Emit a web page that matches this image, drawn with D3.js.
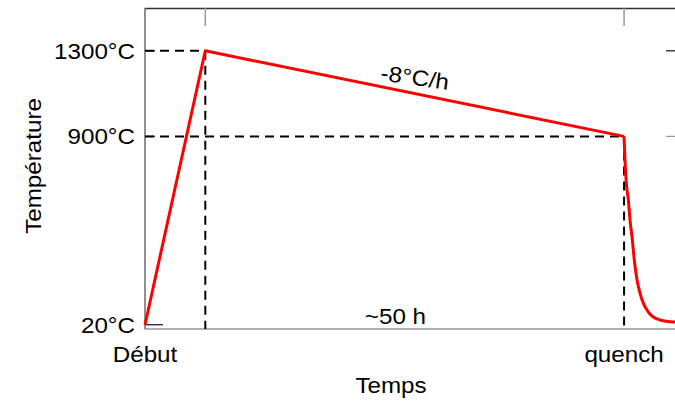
<!DOCTYPE html>
<html><head><meta charset="utf-8">
<script src="https://cdn.jsdelivr.net/npm/d3@7"></script>
<style>
html,body{margin:0;padding:0;background:#fff;}
svg text{font-family:"Liberation Sans",Arial,sans-serif;font-size:22px;fill:#000;}
</style></head>
<body><svg id="c" width="675" height="403"></svg>
<script>
// ---- data ----
const heatTimes = [0, 7.2, 57.2];            // hours
const heatTemps = [20, 1300, 900];           // °C
const quenchTimes = [57.19, 57.31, 57.49, 57.71, 57.91, 58.19, 58.42, 58.75, 59.10, 59.50, 60.10, 60.69, 61.49, 62.69, 63.4];
const quenchTemps = [900, 790, 673, 603, 509, 416, 322, 229, 168, 121, 79, 56, 42, 34, 33];
const yTickValues = [20, 900, 1300];
const yTickLabels = ["20°C", "900°C", "1300°C"];
const xTickValues = [0, 57.2];
const xTickLabels = ["Début", "quench"];
const topTickValues = [7.2, 57.2];
const xTitle = "Temps";
const yTitle = "Température";
const rateLabel = "-8°C/h";
const durationLabel = "~50 h";

// ---- layout ----
const L = 145, R = 676, T = 8, B = 329;
const x = d3.scaleLinear().domain([0, 63.4]).range([L, R]);
const y = d3.scaleLinear().domain([0, 1500]).range([B, T]);
const svg = d3.select("#c");
const SX = 1.1;

function label(txt, px, py, anchor, rot) {
  const g = svg.append("g").attr("transform", `translate(${px},${py}) rotate(${rot||0}) scale(${SX},1)`);
  g.append("text").attr("text-anchor", anchor || "middle").text(txt);
  return g;
}

// frame
svg.append("line").attr("x1", L).attr("x2", R).attr("y1", T + 0.5).attr("y2", T + 0.5).attr("stroke", "#333").attr("stroke-width", 1.3);
svg.append("line").attr("x1", L).attr("x2", R).attr("y1", B).attr("y2", B).attr("stroke", "#999").attr("stroke-width", 1.5);
svg.append("line").attr("x1", L).attr("x2", L).attr("y1", T).attr("y2", B).attr("stroke", "#555").attr("stroke-width", 1.3);

// top ticks (inward)
svg.selectAll(".tt").data(topTickValues).enter().append("line")
  .attr("x1", d => x(d)).attr("x2", d => x(d)).attr("y1", T).attr("y2", T + 18)
  .attr("stroke", "#999").attr("stroke-width", 1.5);
// left ticks (inward)
svg.selectAll(".lt").data(yTickValues).enter().append("line")
  .attr("x1", L).attr("x2", (d, i) => i === 0 ? L + 18 : L + 10)
  .attr("y1", d => y(d)).attr("y2", d => y(d))
  .attr("stroke", "#222").attr("stroke-width", 1.3);
// right ticks (inward)
svg.selectAll(".rt").data(yTickValues.slice(1)).enter().append("line")
  .attr("x1", R - 10).attr("x2", R)
  .attr("y1", d => y(d)).attr("y2", d => y(d))
  .attr("stroke", (d, i) => i === 0 ? "#999" : "#222").attr("stroke-width", 1.3);

// dashed guides
const peak = [heatTimes[1], heatTemps[1]];
const qs = [heatTimes[2], heatTemps[2]];
const dash = "9,6";
function dline(x1, y1, x2, y2) {
  svg.append("line").attr("x1", x1).attr("y1", y1).attr("x2", x2).attr("y2", y2)
    .attr("stroke", "#000").attr("stroke-width", 2).attr("stroke-dasharray", dash);
}
dline(L, y(peak[1]), x(peak[0]), y(peak[1]));
dline(L, y(qs[1]), x(qs[0]), y(qs[1]));
dline(x(peak[0]), y(peak[1]), x(peak[0]), B);
dline(x(qs[0]), y(qs[1]), x(qs[0]), B);

// red curve
const line = d3.line().x(d => x(d[0])).y(d => y(d[1]));
svg.append("path").datum(d3.zip(heatTimes, heatTemps))
  .attr("d", line).attr("fill", "none").attr("stroke", "#ff0000").attr("stroke-width", 3).attr("stroke-linejoin", "round");
svg.append("path").datum(d3.zip(quenchTimes, quenchTemps))
  .attr("d", line.curve(d3.curveMonotoneX)).attr("fill", "none").attr("stroke", "#ff0000").attr("stroke-width", 3);

// tick labels
yTickValues.forEach((v, i) => label(yTickLabels[i], 135, y(v) + 8, "end"));
xTickValues.forEach((v, i) => label(xTickLabels[i], x(v), 362, "middle"));

// titles
label(xTitle, 391, 393, "middle");
label(yTitle, 41, 166, "middle", -90);

// annotations
label(rateLabel, x(32.1), y(1173) + 7, "middle", 8);
label(durationLabel, x(29.9), 324, "middle");
</script></body></html>
